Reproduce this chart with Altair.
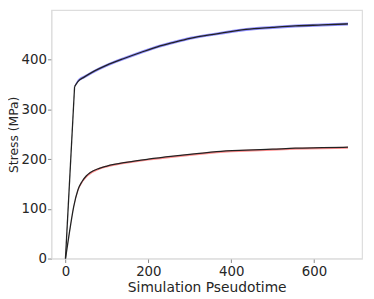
import altair as alt
import pandas as pd

# upper curve (blue band): elastic part, then hardening part
up_el_x = [0, 22]
up_el_y = [0, 346]
up_x = [22, 30, 45, 63, 100, 143, 183, 222, 262, 301, 365, 436, 500, 555, 620, 682]
up_y = [346, 356, 365, 374, 389, 403, 415, 426, 435, 443, 452, 461, 465, 468, 470, 472]
up_lo = [1, 2, 3, 3, 3, 3, 3, 3, 3, 3, 3, 3, 3, 3, 3, 3]
up_hi = [2, 4, 3, 3, 3, 3, 3, 3, 3, 3, 3, 3, 3, 3, 3, 3]

# lower curve (red band)
lo_x = [0, 10, 20, 30, 40, 50, 60, 80, 100, 150, 200, 260, 317, 365, 436, 500, 555, 620, 682]
lo_y = [0, 55, 105, 138, 155, 166, 173, 181, 186, 194, 200, 206, 211, 215, 218, 220, 222, 223, 224]
lo_lo = [0, 1, 3, 4, 4, 4, 4, 3, 3, 3, 3, 3, 3, 3, 3, 3, 3, 3, 3]
lo_hi = [0, 1, 1, 1, 1, 1, 1, 1, 1, 1, 1, 1, 1, 1, 1, 1, 1, 1, 1]

rows = []
for x, y in zip(up_el_x, up_el_y):
    rows.append({"t": x, "s": y, "lo": y, "hi": y, "series": "upper_el", "band": "upper"})
for x, y, a, b in zip(up_x, up_y, up_lo, up_hi):
    rows.append({"t": x, "s": y, "lo": y - a, "hi": y + b, "series": "upper", "band": "upper"})
for x, y, a, b in zip(lo_x, lo_y, lo_lo, lo_hi):
    rows.append({"t": x, "s": y, "lo": y - a, "hi": y + b, "series": "lower", "band": "lower"})
df = pd.DataFrame(rows)

xs = alt.Scale(domain=[-34, 716], nice=False, zero=False)
ys = alt.Scale(domain=[0, 500], nice=False)

xax = alt.Axis(values=[0, 200, 400, 600], title="Simulation Pseudotime", grid=False,
               titleFontSize=14, titlePadding=3)
yax = alt.Axis(values=[0, 100, 200, 300, 400], title="Stress (MPa)", grid=False,
               titleFontSize=12.5, titlePadding=1, labelPadding=1)

band = alt.Chart(df).mark_area(opacity=0.65, interpolate="monotone").encode(
    x=alt.X("t:Q", scale=xs, axis=xax),
    y=alt.Y("lo:Q", scale=ys, axis=yax),
    y2="hi:Q",
    color=alt.Color("band:N", scale=alt.Scale(domain=["upper", "lower"], range=["#5555ff", "#ff5555"]), legend=None),
    detail="series:N",
)

line = alt.Chart(df).mark_line(color="#222222", strokeWidth=1.3, interpolate="monotone").encode(
    x=alt.X("t:Q", scale=xs),
    y=alt.Y("s:Q", scale=ys),
    detail="series:N",
)

chart = (band + line).properties(
    width=315, height=252,
    autosize=alt.AutoSizeParams(type="none"),
    padding={"left": 44, "top": 0, "right": 4, "bottom": 40},
).configure_view(stroke="#dddddd", strokeWidth=1.2).configure_axis(
    domainColor="#dddddd",
    tickColor="#888888",
    tickSize=4,
    labelFont="DejaVu Sans",
    titleFont="DejaVu Sans",
    labelFontSize=13.5,
    labelColor="#262626",
    titleColor="#262626",
    titleFontWeight="normal",
).configure_axisX(labelPadding=2)

chart.save("out.html", embed_options={"renderer": "svg", "actions": False})
